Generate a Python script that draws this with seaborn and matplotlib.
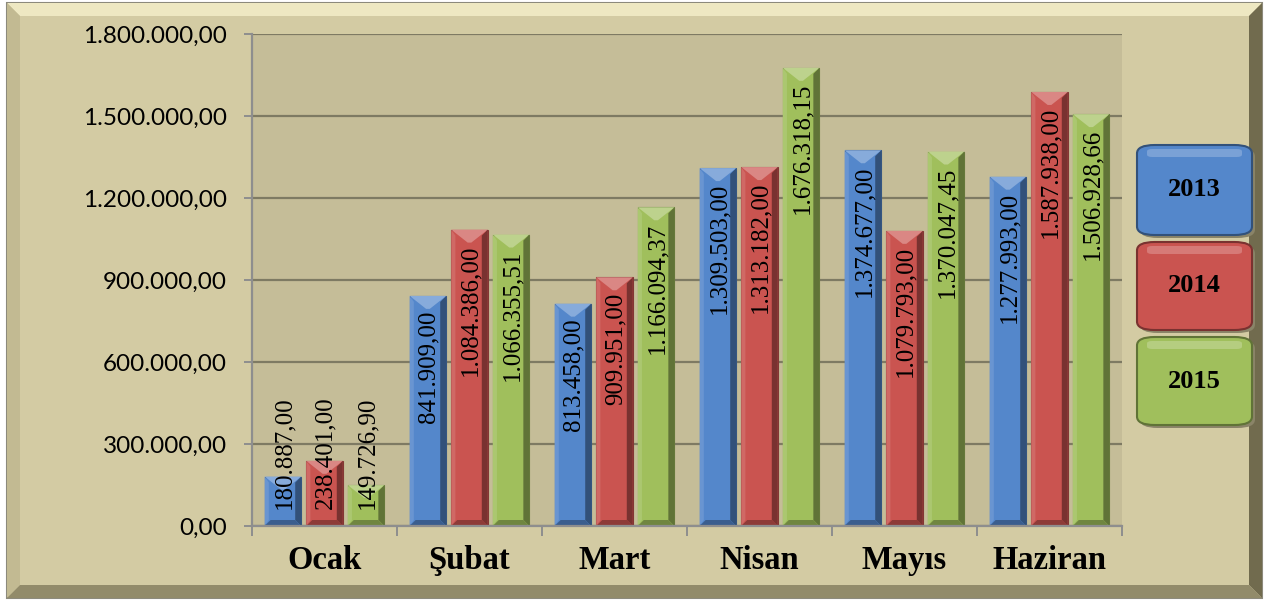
import numpy as np
import pandas as pd
import matplotlib
matplotlib.use("Agg")
import matplotlib.pyplot as plt
from matplotlib.patches import Polygon, FancyBboxPatch, Rectangle
from matplotlib.ticker import FuncFormatter, MultipleLocator
import matplotlib.colors as mcolors
import seaborn as sns

# ---------------- data ----------------
months = ["Ocak", "Şubat", "Mart", "Nisan", "Mayıs", "Haziran"]
years = ["2013", "2014", "2015"]
v2013 = [180887.00, 841909.00, 813458.00, 1309503.00, 1374677.00, 1277993.00]
v2014 = [238401.00, 1084386.00, 909951.00, 1313182.00, 1079793.00, 1587938.00]
v2015 = [149726.90, 1066355.51, 1166094.37, 1676318.15, 1370047.45, 1506928.66]
colors = ["#5487CB", "#CA5450", "#A0BF5C"]

df = pd.DataFrame({
    "month": months * 3,
    "year": [years[0]] * 6 + [years[1]] * 6 + [years[2]] * 6,
    "value": v2013 + v2014 + v2015,
})


def tr_fmt(v):
    s = f"{v:,.2f}"
    return s.replace(",", "X").replace(".", ",").replace("X", ".")


W, H = 1266, 602
fig = plt.figure(figsize=(W / 100, H / 100), dpi=100, facecolor="white")

# ---------------- beveled frame ----------------
def fx(x):
    return x / W


def fy(y):
    return 1 - y / H


L, T, R, B = 7, 3, 1262, 598
bv = 13
fig.patches.append(Rectangle((fx(L), fy(B)), fx(R) - fx(L), fy(T) - fy(B),
                             transform=fig.transFigure, facecolor="#D3CBA3",
                             edgecolor="#8C8A7C", lw=1.5, zorder=-10))
bevels = [
    ([(L, T), (R, T), (R - bv, T + bv), (L + bv, T + bv)], "#EEE8C2"),
    ([(L, T), (L + bv, T + bv), (L + bv, B - bv), (L, B)], "#C2BA92"),
    ([(R, T), (R - bv, T + bv), (R - bv, B - bv), (R, B)], "#716B4E"),
    ([(L, B), (L + bv, B - bv), (R - bv, B - bv), (R, B)], "#928B6A"),
]
for pts, c in bevels:
    fig.patches.append(Polygon([(fx(a), fy(b)) for a, b in pts], closed=True,
                               transform=fig.transFigure, facecolor=c,
                               edgecolor="none", zorder=-9))

# ---------------- axes ----------------
ax_l, ax_r, ax_t, ax_b = 252, 1122, 34, 526
ax = fig.add_axes([fx(ax_l), fy(ax_b), (ax_r - ax_l) / W, (ax_b - ax_t) / H])
ax.set_zorder(1)
ax.set_facecolor("#C5BD98")

sns.barplot(data=df, x="month", y="value", hue="year", palette=colors,
            width=0.86, gap=0.12, saturation=1, legend=False, ax=ax,
            edgecolor="none", zorder=2)

ax.set_xlim(-0.5, 5.5)
ax.set_ylim(0, 1800000)
ax.yaxis.set_major_locator(MultipleLocator(300000))
ax.yaxis.set_major_formatter(FuncFormatter(lambda v, p: tr_fmt(v)))
ax.set_axisbelow(True)
ax.grid(axis="y", color="#7E7A63", lw=1.6)
ax.grid(axis="x", visible=False)
for s in ["top", "right"]:
    ax.spines[s].set_visible(False)
for s in ["left", "bottom"]:
    ax.spines[s].set_color("#8E8E8E")
    ax.spines[s].set_linewidth(1.6)
    ax.spines[s].set_zorder(3)
ax.set_xlabel("")
ax.set_ylabel("")

ax.tick_params(axis="y", length=6, width=1.4, color="#8E8E8E", pad=12,
               labelsize=17.5)
for lab in ax.get_yticklabels():
    lab.set_fontfamily("Lato")
ax.set_xticks(np.arange(-0.5, 6, 1), minor=True)
ax.tick_params(axis="x", which="major", length=0, pad=14)
ax.tick_params(axis="x", which="minor", length=7, width=1.4, color="#8E8E8E")
for lab in ax.get_xticklabels():
    lab.set_fontfamily("Liberation Serif")
    lab.set_fontweight("bold")
    lab.set_fontsize(23.5)

# ---------------- bevel on bars + labels ----------------
px_x = 6 / (ax_r - ax_l)
px_y = 1800000 / (ax_b - ax_t)


def shade(c, f):
    rgb = np.array(mcolors.to_rgb(c))
    if f > 0:
        rgb = rgb + (1 - rgb) * f
    else:
        rgb = rgb * (1 + f)
    return tuple(rgb)


LABEL_FS = 18
for ci, cont in enumerate(ax.containers):
    base = colors[ci]
    for p in cont.patches:
        x0, w, h = p.get_x(), p.get_width(), p.get_height()
        p.set_edgecolor(shade(base, -0.35))
        p.set_linewidth(0.8)
        s = 6 * px_x
        sy = 6 * px_y
        tb = 13 * px_y
        ax.add_patch(Polygon([(x0 + w, 0), (x0 + w, h), (x0 + w - s, h - sy),
                              (x0 + w - s, sy)], closed=True,
                             facecolor=shade(base, -0.4), edgecolor="none", zorder=2.1))
        ax.add_patch(Polygon([(x0, 0), (x0, h), (x0 + s * 0.7, h - sy),
                              (x0 + s * 0.7, sy)], closed=True,
                             facecolor=shade(base, 0.12), edgecolor="none", zorder=2.1))
        ax.add_patch(Polygon([(x0, 0), (x0 + w, 0), (x0 + w - s, sy),
                              (x0 + s, sy)], closed=True,
                             facecolor=shade(base, -0.3), edgecolor="none", zorder=2.1))
        ax.add_patch(Polygon([(x0, h), (x0 + w, h), (x0 + w * 0.55, h - tb),
                              (x0 + w * 0.45, h - tb)], closed=True,
                             facecolor=shade(base, 0.3), edgecolor="none", zorder=2.2))

        txt = tr_fmt(h)
        hpx = h / px_y
        cx = x0 + w / 2
        em = LABEL_FS * 100 / 72
        est_len = (sum(c.isdigit() for c in txt) * 0.5 + sum(not c.isdigit() for c in txt) * 0.25) * em
        if hpx - 17 >= est_len + 4:
            ax.annotate(txt, (cx, h), xytext=(1, -15), textcoords="offset pixels",
                        rotation=90, ha="center", va="top", fontsize=LABEL_FS,
                        family="Liberation Serif", color="black", zorder=5)
        else:
            ax.annotate(txt, (cx, 0), xytext=(1, 17), textcoords="offset pixels",
                        rotation=90, ha="center", va="bottom", fontsize=LABEL_FS,
                        family="Liberation Serif", color="black", zorder=5)

# ---------------- legend boxes ----------------
boxes = [(145, 235), (242, 330), (337, 425)]
bx0, bx1 = 1137, 1252
for (y0, y1), c, yr in zip(boxes, colors, years):
    fig.patches.append(FancyBboxPatch((fx(bx0 + 3), fy(y1 + 3)), fx(bx1) - fx(bx0),
                                      fy(y0) - fy(y1),
                                      boxstyle="round,pad=0,rounding_size=0.014",
                                      transform=fig.transFigure,
                                      facecolor="#8A8468", edgecolor="none", zorder=3))
    fig.patches.append(FancyBboxPatch((fx(bx0), fy(y1)), fx(bx1) - fx(bx0),
                                      fy(y0) - fy(y1),
                                      boxstyle="round,pad=0,rounding_size=0.014",
                                      transform=fig.transFigure,
                                      facecolor=c, edgecolor=shade(c, -0.4),
                                      lw=1.5, zorder=4))
    fig.patches.append(FancyBboxPatch((fx(bx0 + 10), fy(y0 + 12)), fx(bx1 - 10) - fx(bx0 + 10),
                                      fy(y0 + 4) - fy(y0 + 12),
                                      boxstyle="round,pad=0,rounding_size=0.004",
                                      transform=fig.transFigure,
                                      facecolor=shade(c, 0.22), edgecolor="none", zorder=4.1))
    fig.text(fx((bx0 + bx1) / 2), fy((y0 + y1) / 2), yr, ha="center", va="center",
             fontsize=19, fontweight="bold", family="Liberation Serif", zorder=5)

fig.savefig("out.png", dpi=100, facecolor=fig.get_facecolor())
